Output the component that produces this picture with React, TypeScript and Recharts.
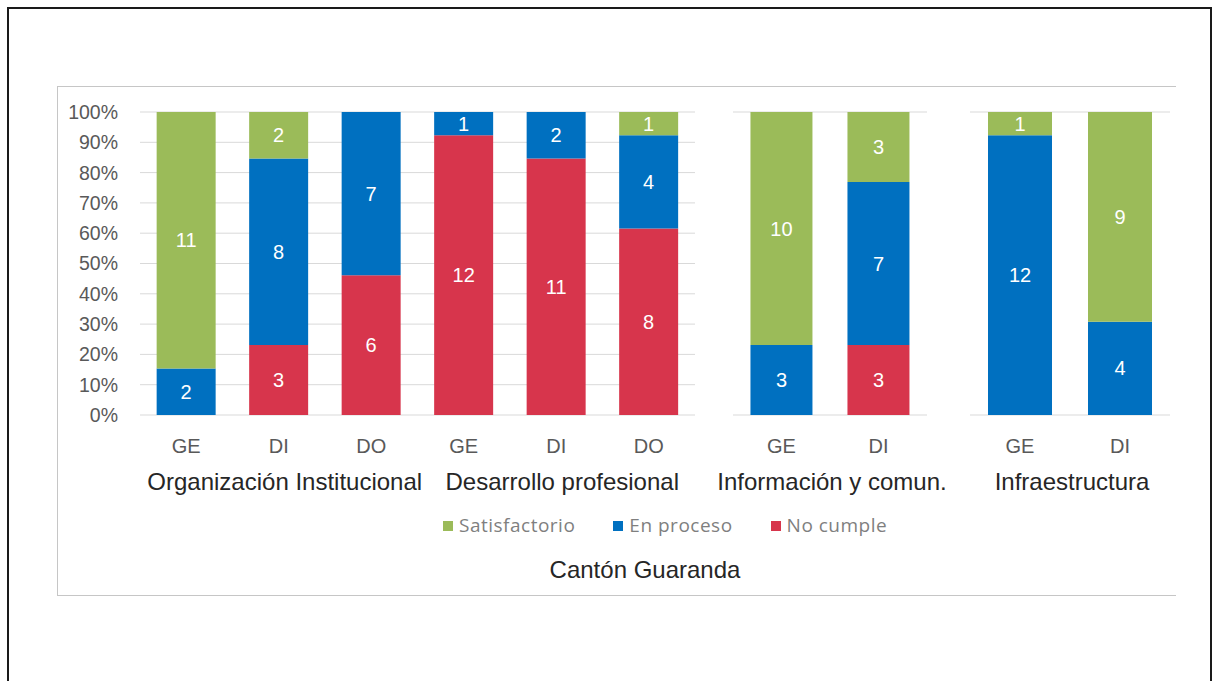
import { BarChart, Bar, XAxis, YAxis, CartesianGrid, LabelList } from 'recharts';

const FONT = "'Liberation Sans', Arial, sans-serif";

// categorías (GE / DI / DO) y el grupo al que pertenece cada una
const subLabels = ['GE', 'DI', 'DO', 'GE', 'DI', 'DO', 'GE', 'DI', 'GE', 'DI'];
const groupNames = ['Organización Institucional', 'Desarrollo profesional', 'Información y comun.', 'Infraestructura'];
const groupIndex = [0, 0, 0, 1, 1, 1, 2, 2, 3, 3];

// conteos por categoría (null = sin etiqueta)
const satisfactorio = [11, 2, 0, null, null, 1, 10, 3, 1, 9];
const enProceso = [2, 8, 7, 1, 2, 4, 3, 7, 12, 4];
const noCumple = [null, 3, 6, 12, 11, 8, null, 3, null, null];

const yTicks = [0, 0.1, 0.2, 0.3, 0.4, 0.5, 0.6, 0.7, 0.8, 0.9, 1];

const COLORS = {
  satisfactorio: '#9BBB59',
  enProceso: '#0070C0',
  noCumple: '#D7354C',
};

const LEGEND = [
  { key: 'satisfactorio', label: 'Satisfactorio' },
  { key: 'enProceso', label: 'En proceso' },
  { key: 'noCumple', label: 'No cumple' },
];

interface Row {
  id: string;
  sub: string;
  group: string;
  satisfactorio: number | null;
  enProceso: number | null;
  noCumple: number | null;
}

const rows: Row[] = subLabels.map((sub, i) => ({
  id: `c${i}`,
  sub,
  group: groupNames[groupIndex[i]],
  satisfactorio: satisfactorio[i],
  enProceso: enProceso[i],
  noCumple: noCumple[i],
}));

interface Panel {
  left: number;
  width: number;
  marginLeft: number;
  marginRight: number;
  yAxisWidth: number;
  groups: number[];
}

const PANELS: Panel[] = [
  { left: 40, width: 660, marginLeft: 0, marginRight: 5, yAxisWidth: 100, groups: [0, 1] },
  { left: 700, width: 260, marginLeft: 33, marginRight: 33, yAxisWidth: 0, groups: [2] },
  { left: 950, width: 240, marginLeft: 20, marginRight: 20, yAxisWidth: 0, groups: [3] },
];

const CHART_TOP = 100;
const CHART_HEIGHT = 400;

function makeTick(data: Row[], band: number) {
  return (props: any) => {
    const { x, y, payload } = props;
    const idx = data.findIndex((r) => r.id === payload.value);
    if (idx < 0) return <g />;
    const row = data[idx];
    const first = idx === 0 || data[idx - 1].group !== row.group;
    const n = data.filter((r) => r.group === row.group).length;
    return (
      <g>
        <text x={x} y={y + 38} textAnchor="middle" fill="#595959" fontSize={20} fontFamily={FONT}>
          {row.sub}
        </text>
        {first && (
          <text
            x={x + ((n - 1) / 2) * band + (n === 3 ? 6 : 2)}
            y={y + 75}
            textAnchor="middle"
            fill="#262626"
            fontSize={24}
            fontFamily={FONT}
          >
            {row.group}
          </text>
        )}
      </g>
    );
  };
}

function PanelChart({ panel }: { panel: Panel }) {
  const data = rows.filter((r) => panel.groups.includes(groupNames.indexOf(r.group)));
  const plotWidth = panel.width - panel.marginLeft - panel.marginRight - panel.yAxisWidth;
  const band = plotWidth / data.length;
  const hasAxis = panel.yAxisWidth > 0;

  return (
    <div style={{ position: 'absolute', left: panel.left, top: CHART_TOP }}>
      <BarChart
        width={panel.width}
        height={CHART_HEIGHT}
        data={data}
        stackOffset="expand"
        barCategoryGap="18%"
        margin={{ top: 12, right: panel.marginRight, bottom: 0, left: panel.marginLeft }}
      >
        <CartesianGrid vertical={false} stroke="#d9d9d9" />
        <XAxis
          dataKey="id"
          interval={0}
          height={85}
          axisLine={false}
          tickLine={false}
          tickSize={0}
          tickMargin={0}
          tick={makeTick(data, band)}
        />
        <YAxis
          domain={[0, 1]}
          ticks={yTicks}
          width={panel.yAxisWidth}
          axisLine={false}
          tickLine={false}
          tickSize={0}
          tickMargin={22}
          tick={hasAxis ? { fill: '#595959', fontSize: 19.5, fontFamily: FONT } : false}
          tickFormatter={(v: number) => `${Math.round(v * 100)}%`}
        />
        <Bar dataKey="noCumple" stackId="a" fill={COLORS.noCumple} isAnimationActive={false}>
          <LabelList dataKey="noCumple" position="center" fill="#ffffff" fontSize={20} fontFamily={FONT} />
        </Bar>
        <Bar dataKey="enProceso" stackId="a" fill={COLORS.enProceso} isAnimationActive={false}>
          <LabelList dataKey="enProceso" position="center" fill="#ffffff" fontSize={20} fontFamily={FONT} />
        </Bar>
        <Bar dataKey="satisfactorio" stackId="a" fill={COLORS.satisfactorio} isAnimationActive={false}>
          <LabelList dataKey="satisfactorio" position="center" fill="#ffffff" fontSize={20} fontFamily={FONT} />
        </Bar>
      </BarChart>
    </div>
  );
}

export default function App() {
  return (
    <div
      style={{
        position: 'absolute',
        left: 0,
        top: 0,
        width: 1220,
        height: 681,
        overflow: 'hidden',
        background: '#ffffff',
      }}
    >
      <div
        style={{
          position: 'absolute',
          left: 7,
          top: 7,
          width: 1201,
          height: 720,
          border: '2px solid #1a1a1a',
        }}
      />
      <div
        style={{
          position: 'absolute',
          left: 57,
          top: 86,
          width: 1118,
          height: 508,
          borderTop: '1px solid #c6c6c6',
          borderLeft: '1px solid #c6c6c6',
          borderBottom: '1px solid #c6c6c6',
        }}
      />
      {PANELS.map((p, i) => (
        <PanelChart key={i} panel={p} />
      ))}
      <div
        style={{
          position: 'absolute',
          left: 443,
          top: 516,
          display: 'flex',
          alignItems: 'center',
          height: 19,
          fontFamily: "'Open Sans', sans-serif",
          fontSize: 19,
          lineHeight: '19px',
          letterSpacing: 0.5,
          color: '#7f7f7f',
        }}
      >
        {LEGEND.map((item) => (
          <div key={item.key} style={{ display: 'flex', alignItems: 'center', marginRight: 38 }}>
            <div
              style={{
                width: 10,
                height: 10,
                marginRight: 6,
                background: COLORS[item.key as keyof typeof COLORS],
              }}
            />
            <span>{item.label}</span>
          </div>
        ))}
      </div>
      <div
        style={{
          position: 'absolute',
          left: 445,
          top: 558,
          width: 400,
          textAlign: 'center',
          fontFamily: FONT,
          fontSize: 24,
          lineHeight: '24px',
          color: '#262626',
        }}
      >
        Cantón Guaranda
      </div>
    </div>
  );
}
